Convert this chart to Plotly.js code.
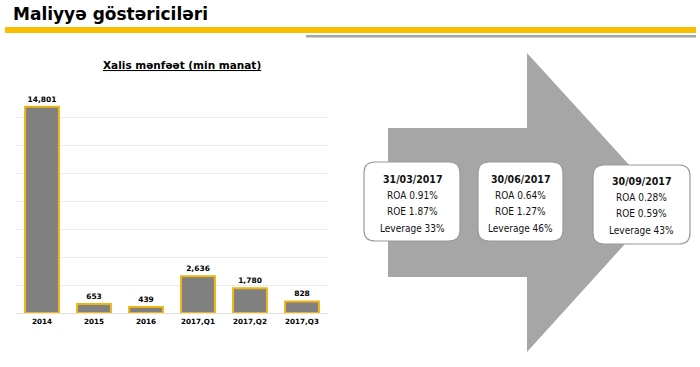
<!DOCTYPE html>
<html>
<head>
<meta charset="utf-8">
<script src="https://cdn.plot.ly/plotly-3.0.1.min.js"></script>
<style>html,body{margin:0;padding:0;background:#fff;}#chart{width:700px;height:367px;}</style>
</head>
<body>
<div id="chart"></div>
<script>
// ---- data ----
var categories = ["2014", "2015", "2016", "2017,Q1", "2017,Q2", "2017,Q3"];
var netProfit = [14801, 653, 439, 2636, 1780, 828];
var boxDates = ["31/03/2017", "30/06/2017", "30/09/2017"];
var roaValues = ["0.91%", "0.64%", "0.28%"];
var roeValues = ["1.87%", "1.27%", "0.59%"];
var leverageValues = ["33%", "46%", "43%"];
var pageTitle = "Maliyyə göstəriciləri";
var chartTitle = "Xalis mənfəət (min manat)";

// ---- layout helpers (pixel coordinates on an overlay axis) ----
var W = 700, H = 367;
function px(x){ return x / W; }
function py(y){ return (H - y) / H; }

function roundRect(x0, y0, x1, y1, r){
  return "M" + (x0 + r) + "," + y0 +
    " L" + (x1 - r) + "," + y0 + " Q" + x1 + "," + y0 + " " + x1 + "," + (y0 + r) +
    " L" + x1 + "," + (y1 - r) + " Q" + x1 + "," + y1 + " " + (x1 - r) + "," + y1 +
    " L" + (x0 + r) + "," + y1 + " Q" + x0 + "," + y1 + " " + x0 + "," + (y1 - r) +
    " L" + x0 + "," + (y0 + r) + " Q" + x0 + "," + y0 + " " + (x0 + r) + "," + y0 + " Z";
}

var boxGeom = [
  {x0: 364, x1: 460, y0: 162, y1: 241, dy: 0},
  {x0: 478, x1: 563, y0: 162, y1: 241, dy: 0},
  {x0: 593, x1: 690, y0: 165, y1: 244, dy: 2}
];

var boxFont = "DejaVu Sans Condensed, DejaVu Sans, sans-serif";

var shapes = [
  {type: "rect", xref: "x2", yref: "y2", x0: 5, x1: 696, y0: 27, y1: 33,
   fillcolor: "#F8BF00", line: {width: 0}},
  {type: "rect", xref: "x2", yref: "y2", x0: 306, x1: 696, y0: 35, y1: 37.5,
   fillcolor: "#A6A6A6", line: {width: 0}},
  {type: "path", xref: "x2", yref: "y2",
   path: "M388,128 L527,128 L527,53 L663,202 L527,352 L527,277 L388,277 Z",
   fillcolor: "#A6A6A6", line: {width: 0}}
];
var annotations = [
  {xref: "x2", yref: "y2", x: 11, y: 14, xanchor: "left", yanchor: "middle",
   text: pageTitle, showarrow: false,
   font: {family: "DejaVu Sans, sans-serif", size: 17, color: "#000", weight: "bold"}},
  {xref: "x2", yref: "y2", x: 182, y: 65, xanchor: "center", yanchor: "middle",
   text: "<u>" + chartTitle + "</u>", showarrow: false,
   font: {family: "DejaVu Sans, sans-serif", size: 10.5, color: "#000", weight: "bold"}}
];

boxGeom.forEach(function(g, i){
  shapes.push({type: "path", xref: "x2", yref: "y2", path: roundRect(g.x0, g.y0, g.x1, g.y1, 11),
    fillcolor: "#FFFFFF", line: {color: "#9A9A9A", width: 1.2}});
  var cx = (g.x0 + g.x1) / 2;
  var lines = [
    {t: boxDates[i], y: 179, b: true},
    {t: "ROA " + roaValues[i], y: 195, b: false},
    {t: "ROE " + roeValues[i], y: 211.5, b: false},
    {t: "Leverage " + leverageValues[i], y: 228, b: false}
  ];
  lines.forEach(function(l){
    annotations.push({xref: "x2", yref: "y2", x: cx, y: l.y + g.dy, xanchor: "center", yanchor: "middle",
      text: l.t, showarrow: false,
      font: {family: boxFont, size: l.b ? 10.5 : 10, color: "#111", weight: l.b ? "bold" : "normal"}});
  });
});

var trace = {
  type: "bar",
  x: categories,
  y: netProfit,
  xaxis: "x", yaxis: "y",
  marker: {color: "#808080", line: {color: "#EDB414", width: 2}},
  texttemplate: "%{y:,}",
  textposition: "outside",
  cliponaxis: false,
  textfont: {family: "DejaVu Sans, sans-serif", size: 7.5, color: "#000", weight: "bold"},
  hoverinfo: "skip"
};
var overlay = {type: "scatter", x: [], y: [], xaxis: "x2", yaxis: "y2", showlegend: false};

var layout = {
  width: W, height: H,
  margin: {l: 0, r: 0, t: 0, b: 0},
  paper_bgcolor: "#FFFFFF", plot_bgcolor: "rgba(0,0,0,0)",
  showlegend: false,
  bargap: 0.35,
  xaxis: {domain: [px(16), px(328)], anchor: "y", type: "category",
    showgrid: false, zeroline: false, showline: false, ticks: "", ticklabelstandoff: 3,
    tickfont: {family: "DejaVu Sans, sans-serif", size: 7.2, color: "#000", weight: "bold"}},
  yaxis: {domain: [py(313), py(90)], anchor: "x", range: [0, 16000], dtick: 2000,
    showgrid: true, gridcolor: "#EEEBE6", gridwidth: 1, zeroline: true, zerolinecolor: "#E4E1DC",
    showticklabels: false, ticks: "", showline: false},
  xaxis2: {domain: [0, 1], anchor: "y2", range: [0, W], visible: false, fixedrange: true},
  yaxis2: {domain: [0, 1], anchor: "x2", range: [H, 0], visible: false, fixedrange: true},
  shapes: shapes,
  annotations: annotations
};

Plotly.newPlot("chart", [trace, overlay], layout, {displayModeBar: false, staticPlot: true});
</script>
</body>
</html>
